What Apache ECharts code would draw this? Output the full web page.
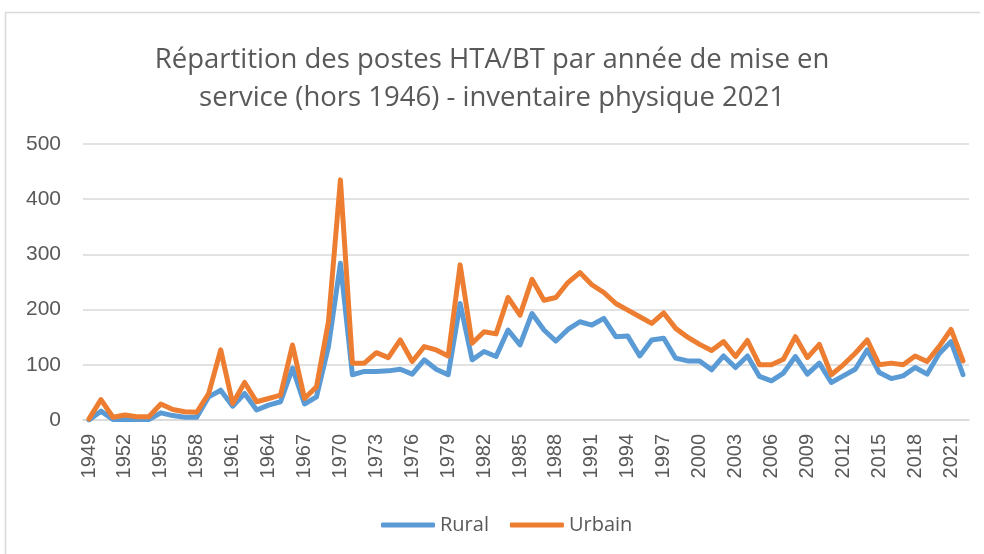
<!DOCTYPE html>
<html>
<head>
<meta charset="utf-8">
<script src="https://cdn.jsdelivr.net/npm/echarts@6/dist/echarts.min.js"></script>
<style>
html,body{margin:0;padding:0;background:#fff;}
#chart{width:984px;height:554px;}
</style>
</head>
<body>
<div id="chart"></div>
<script>
var years = [];
for (var y = 1949; y <= 2022; y++) years.push(String(y));

var rural = [0,16,1,1,1,1,13,8,5,5,42,54,25,48,18,27,33,94,29,42,133,284,82,88,88,
89,92,83,109,92,82,211,109,124,115,163,136,193,163,143,164,178,172,184,151,152,116,145,148,112,107,
107,91,116,95,116,79,71,85,115,83,103,68,80,92,127,86,75,80,95,83,120,142,82];

var urbain = [2,37,5,9,6,6,29,19,15,14,48,127,30,68,33,39,45,136,39,60,178,435,103,103,122,
113,145,106,133,127,116,281,139,160,156,222,190,255,217,222,249,267,245,231,211,199,187,175,194,166,150,
137,126,142,115,144,100,100,110,151,113,137,82,100,121,145,100,103,100,116,106,133,164,107];

var yTicks = [0,100,200,300,400,500];

var chart = echarts.init(document.getElementById('chart'));
var txt = '#595959';
var font = 'Liberation Sans';
chart.setOption({
  animation: false,
  backgroundColor: '#fff',
  title: {
    text: 'Répartition des postes HTA/BT par année de mise en\nservice (hors 1946) - inventaire physique 2021',
    left: 'center',
    top: 36,
    textStyle: {color: txt, fontFamily: 'Open Sans', fontWeight: 'normal', fontSize: 27.5, lineHeight: 38}
  },
  legend: {
    bottom: 14,
    left: 376,
    itemWidth: 54,
    itemHeight: 5,
    itemGap: 21,
    icon: 'roundRect',
    textStyle: {color: txt, fontFamily: 'Open Sans', fontSize: 20},
    data: ['Rural', 'Urbain']
  },
  grid: {left: 83, right: 15, top: 144, bottom: 134, containLabel: false},
  xAxis: {
    type: 'category',
    data: years,
    boundaryGap: true,
    axisLine: {lineStyle: {color: '#d9d9d9', width: 1.5}},
    axisTick: {show: false},
    axisLabel: {
      rotate: 90, interval: 2, margin: 14,
      color: txt, fontFamily: font, fontSize: 20
    }
  },
  yAxis: {
    type: 'value',
    min: 0, max: 500, interval: 100,
    axisLine: {show: false},
    axisTick: {show: false},
    splitLine: {lineStyle: {color: '#d9d9d9', width: 1.5}},
    axisLabel: {color: txt, fontFamily: font, fontSize: 21, margin: 22}
  },
  series: [
    {name: 'Rural', type: 'line', data: rural, symbol: 'none', color: '#5B9BD5',
     lineStyle: {width: 5, color: '#5B9BD5', join: 'round', cap: 'round'}},
    {name: 'Urbain', type: 'line', data: urbain, symbol: 'none', color: '#ED7D31',
     lineStyle: {width: 5, color: '#ED7D31', join: 'round', cap: 'round'}}
  ],
  graphic: [{
    type: 'polyline', silent: true, z: -1,
    shape: {points: [[5.5, 560], [5.5, 12.5], [980, 12.5]]},
    style: {fill: 'none', stroke: '#d9d9d9', lineWidth: 1.5}
  }]
});
</script>
</body>
</html>
